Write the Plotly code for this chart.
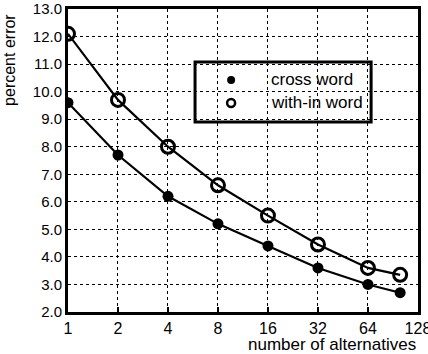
import plotly.graph_objects as go

alternatives = [1, 2, 4, 8, 16, 32, 64, 100]
cross_word = [9.6, 7.7, 6.2, 5.2, 4.4, 3.6, 3.0, 2.7]
within_word = [12.1, 9.7, 8.0, 6.6, 5.5, 4.45, 3.6, 3.35]
x_ticks = [1, 2, 4, 8, 16, 32, 64, 128]
y_ticks = [2, 3, 4, 5, 6, 7, 8, 9, 10, 11, 12, 13]
legend_names = ["cross word", "with-in word"]

FONT = "Liberation Sans, Arial, sans-serif"

fig = go.Figure()
fig.add_trace(go.Scatter(x=alternatives, y=within_word, mode="lines+markers",
                         line=dict(color="black", width=2.2),
                         marker=dict(symbol="circle-open", size=13, color="black", line=dict(width=3)),
                         showlegend=False))
fig.add_trace(go.Scatter(x=alternatives, y=cross_word, mode="lines+markers",
                         line=dict(color="black", width=2.2),
                         marker=dict(symbol="circle", size=11, color="black"),
                         showlegend=False))

# manual legend (in an overlay axis spanning the plot area)
leg_x0, leg_x1, leg_y0, leg_y1 = 0.363, 0.866, 0.627, 0.825
row_y = [0.766, 0.690]
fig.add_trace(go.Scatter(x=[0.466], y=[row_y[0]], xaxis="x2", yaxis="y2", mode="markers",
                         marker=dict(symbol="circle", size=8, color="black"),
                         showlegend=False, hoverinfo="skip"))
fig.add_trace(go.Scatter(x=[0.466], y=[row_y[1]], xaxis="x2", yaxis="y2", mode="markers",
                         marker=dict(symbol="circle-open", size=8, color="black", line=dict(width=2.5)),
                         showlegend=False, hoverinfo="skip"))

annotations = [
    dict(text="number of alternatives", xref="paper", yref="paper",
         x=1.0, y=0, xanchor="right", yanchor="bottom", yshift=-44,
         showarrow=False, font=dict(size=17)),
    dict(text="percent error", xref="paper", yref="paper",
         x=0, y=0.832, xanchor="center", yanchor="middle", xshift=-58,
         textangle=-90, showarrow=False, font=dict(size=16)),
]
for name, ry in zip(legend_names, row_y):
    annotations.append(dict(text=name, xref="paper", yref="paper", x=0.574, y=ry,
                            xanchor="left", yanchor="middle", showarrow=False,
                            font=dict(size=17)))

fig.update_layout(
    width=428, height=354,
    margin=dict(l=68, r=10, t=9, b=42, autoexpand=False),
    paper_bgcolor="white", plot_bgcolor="white",
    font=dict(family=FONT, size=15, color="black"),
    showlegend=False,
    xaxis=dict(type="log", range=[0, 2.1075], tickvals=x_ticks,
               ticktext=[str(v) for v in x_ticks], automargin=False,
               showgrid=True, gridcolor="black", griddash="dot", gridwidth=1,
               showline=True, linecolor="black", linewidth=3, mirror=True,
               ticks="inside", ticklen=5, tickwidth=2, tickcolor="black",
               tickfont=dict(size=16), ticklabeloverflow="allow", zeroline=False),
    yaxis=dict(range=[2, 13], tickvals=y_ticks, automargin=False,
               ticktext=[f"{v:.1f}" for v in y_ticks],
               showgrid=True, gridcolor="black", griddash="dot", gridwidth=1,
               showline=True, linecolor="black", linewidth=3, mirror=True,
               ticks="", tickfont=dict(size=15), zeroline=False),
    xaxis2=dict(range=[0, 1], overlaying="x", visible=False),
    yaxis2=dict(range=[0, 1], overlaying="y", visible=False),
    shapes=[dict(type="rect", xref="paper", yref="paper", x0=leg_x0, x1=leg_x1,
                 y0=leg_y0, y1=leg_y1, line=dict(color="black", width=3))],
    annotations=annotations,
)

fig.write_html("out.html")
